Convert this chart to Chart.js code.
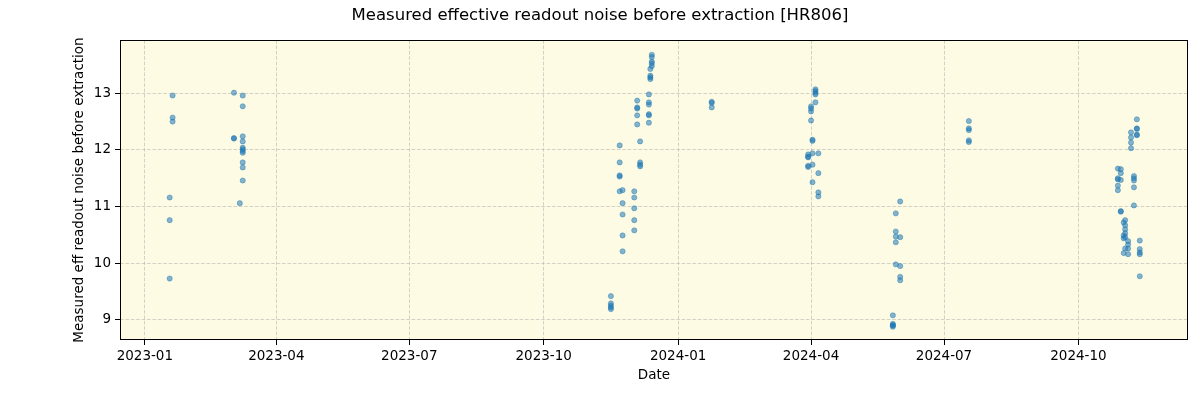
<!DOCTYPE html>
<html>
<head>
<meta charset="utf-8">
<script src="https://cdn.jsdelivr.net/npm/chart.js@4"></script>
<style>
  html, body { margin: 0; padding: 0; background: #fff; }
  #wrap { width: 1200px; height: 400px; position: relative; }
</style>
</head>
<body>
<div id="wrap"><canvas id="noiseChart" width="1200" height="400"></canvas></div>
<script>
// observing nights and the noise values measured on each
const nights = [
  '2023-01-18', '2023-01-20', '2023-03-03', '2023-03-07', '2023-03-09',
  '2023-11-16', '2023-11-22', '2023-11-24', '2023-12-02', '2023-12-04',
  '2023-12-06', '2023-12-12', '2023-12-13', '2023-12-14', '2024-01-24',
  '2024-03-30', '2024-04-01', '2024-04-02', '2024-04-04', '2024-04-06',
  '2024-05-27', '2024-05-29', '2024-06-01', '2024-07-18', '2024-10-28',
  '2024-10-30', '2024-11-01', '2024-11-02', '2024-11-04', '2024-11-06',
  '2024-11-08', '2024-11-10', '2024-11-12'
];
const noiseByNight = [
  [11.16, 10.76, 9.73],
  [12.96, 12.57, 12.50],
  [13.01, 12.21, 12.20],
  [11.06],
  [12.96, 12.77, 12.24, 12.15, 12.04, 12.01, 11.98, 11.95, 11.78, 11.69, 11.46],
  [9.42, 9.29, 9.25, 9.22, 9.19],
  [12.08, 11.78, 11.55, 11.53, 11.27],
  [11.29, 11.06, 10.86, 10.49, 10.21],
  [11.27, 11.16, 10.97, 10.76, 10.58],
  [12.87, 12.75, 12.73, 12.61, 12.45],
  [12.15, 11.78, 11.74, 11.71],
  [12.98, 12.84, 12.80, 12.63, 12.61, 12.48],
  [13.43, 13.31, 13.28, 13.25],
  [13.68, 13.64, 13.56, 13.53, 13.48],
  [12.85, 12.83, 12.75],
  [11.92, 11.88, 11.87, 11.72, 11.70],
  [12.77, 12.73, 12.68, 12.52],
  [12.18, 12.16, 11.94, 11.74, 11.43],
  [13.07, 13.04, 13.01, 12.98, 12.84],
  [11.94, 11.59, 11.25, 11.18],
  [9.08, 8.93, 8.91, 8.90, 8.88],
  [10.88, 10.56, 10.47, 10.37, 9.98],
  [11.09, 10.46, 9.95, 9.76, 9.70],
  [12.51, 12.38, 12.35, 12.17, 12.14],
  [11.67, 11.50, 11.48, 11.37, 11.29],
  [11.66, 11.59, 11.47, 10.92, 10.91],
  [10.72, 10.49, 10.44, 10.18],
  [10.76, 10.67, 10.60, 10.53, 10.46, 10.26],
  [10.39, 10.33, 10.26, 10.16],
  [12.31, 12.22, 12.13, 12.03],
  [11.54, 11.50, 11.46, 11.34, 11.02],
  [12.54, 12.38, 12.37, 12.27, 12.26],
  [10.40, 10.25, 10.19, 10.16, 9.77]
];

const xTickDates = ['2023-01-01', '2023-04-01', '2023-07-01', '2023-10-01',
                    '2024-01-01', '2024-04-01', '2024-07-01', '2024-10-01'];
const xTickLabels = ['2023-01', '2023-04', '2023-07', '2023-10',
                     '2024-01', '2024-04', '2024-07', '2024-10'];
const yTicks = [9, 10, 11, 12, 13];

const xRange = ['2022-12-15', '2024-12-15'];
const yRange = [8.645, 13.940];

// days since 2023-01-01 (no date adapter offline, so a linear axis)
const epoch = Date.parse('2023-01-01T00:00:00Z');
function dayIndex(d) {
  return (Date.parse(d + 'T00:00:00Z') - epoch) / 86400000;
}

const points = [];
nights.forEach((d, i) => {
  noiseByNight[i].forEach(v => points.push({ x: dayIndex(d), y: v }));
});

const FONT = "'DejaVu Sans', sans-serif";

// frame, title and axis titles drawn like matplotlib
const decorations = {
  id: 'decorations',
  beforeDraw(chart) {
    const { ctx, chartArea: a } = chart;
    ctx.save();
    ctx.fillStyle = '#fdfbe3';
    ctx.fillRect(a.left, a.top, a.right - a.left, a.bottom - a.top);
    ctx.restore();
  },
  afterDraw(chart) {
    const { ctx, chartArea: a } = chart;
    ctx.save();
    ctx.strokeStyle = '#000';
    ctx.lineWidth = 1;
    ctx.strokeRect(a.left + 0.5, a.top + 0.5, a.right - a.left - 1, a.bottom - a.top - 1);

    ctx.fillStyle = '#000';
    ctx.textAlign = 'center';
    ctx.textBaseline = 'middle';
    ctx.font = '16.5px ' + FONT;
    ctx.fillText('Measured effective readout noise before extraction [HR806]', 600, 16);

    ctx.font = '13.5px ' + FONT;
    ctx.fillText('Date', (a.left + a.right) / 2, 375);

    ctx.translate(79, (a.top + a.bottom) / 2);
    ctx.rotate(-Math.PI / 2);
    ctx.fillText('Measured eff readout noise before extraction', 0, 0);
    ctx.restore();
  }
};

new Chart(document.getElementById('noiseChart'), {
  type: 'scatter',
  data: {
    datasets: [{
      label: 'noise',
      data: points,
      pointRadius: 2.6,
      pointHoverRadius: 2.6,
      backgroundColor: 'rgba(31,119,180,0.55)',
      borderColor: 'rgba(31,119,180,0.4)',
      borderWidth: 1
    }]
  },
  options: {
    responsive: false,
    animation: false,
    layout: { padding: { top: 40, right: 12, left: 0, bottom: 0 } },
    plugins: {
      legend: { display: false },
      title: { display: false },
      tooltip: { enabled: false }
    },
    scales: {
      x: {
        type: 'linear',
        min: dayIndex(xRange[0]),
        max: dayIndex(xRange[1]),
        afterBuildTicks(scale) {
          scale.ticks = xTickDates.map(d => ({ value: dayIndex(d) }));
        },
        afterFit(scale) { scale.height = 60; },
        ticks: {
          autoSkip: false,
          maxRotation: 0,
          padding: 3,
          color: '#000',
          font: { family: FONT, size: 13.5 },
          callback(value) {
            const i = xTickDates.findIndex(d => dayIndex(d) === value);
            return i >= 0 ? xTickLabels[i] : '';
          }
        },
        grid: {
          color: 'rgba(176,176,176,0.55)',
          lineWidth: 1,
          drawTicks: true,
          tickLength: 5,
          tickColor: '#000',
          tickBorderDash: []
        },
        border: { display: false, dash: [3.7, 1.7] }
      },
      y: {
        min: yRange[0],
        max: yRange[1],
        afterBuildTicks(scale) {
          scale.ticks = yTicks.map(v => ({ value: v }));
        },
        afterFit(scale) { scale.width = 120; },
        ticks: {
          padding: 4,
          color: '#000',
          font: { family: FONT, size: 13.5 },
          callback: v => String(v)
        },
        grid: {
          color: 'rgba(176,176,176,0.55)',
          lineWidth: 1,
          drawTicks: true,
          tickLength: 5,
          tickColor: '#000',
          tickBorderDash: []
        },
        border: { display: false, dash: [3.7, 1.7] }
      }
    }
  },
  plugins: [decorations]
});
</script>
</body>
</html>
